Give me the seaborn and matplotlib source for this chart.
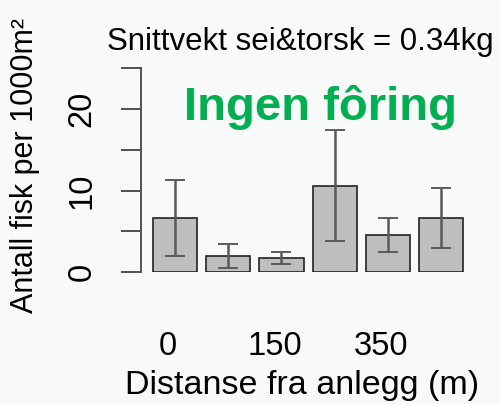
import numpy as np
import pandas as pd
import seaborn as sns
import matplotlib.pyplot as plt

# Data
stasjon = ["1", "2", "3", "4", "5", "6"]
snitt = [6.67, 2.0, 1.77, 10.6, 4.6, 6.67]
feil = [4.68, 1.5, 0.72, 6.8, 2.1, 3.7]
x_etiketter = ["0", "", "150", "", "350", ""]
y_ticks = [0, 5, 10, 15, 20, 25]
y_etiketter = ["0", "", "10", "", "20", ""]

df = pd.DataFrame({"stasjon": stasjon, "snitt": snitt, "feil": feil})

sns.set_style("white")
plt.rcParams["font.family"] = ["Liberation Sans", "DejaVu Sans"]
plt.rcParams["text.color"] = "black"
plt.rcParams["xtick.color"] = "black"
plt.rcParams["ytick.color"] = "black"

fig = plt.figure(figsize=(5, 4.04), dpi=100, facecolor="#f8f9f9")
ax = fig.add_axes([0.282, 0.326, 0.664, 0.505])
ax.set_facecolor("none")

sns.barplot(data=df, x="stasjon", y="snitt", color="#bebebe", width=0.83,
            edgecolor="#222222", linewidth=1.2, saturation=1, errorbar=None, ax=ax)

# Feilstolper
pos = np.arange(len(df))
ax.errorbar(pos, df["snitt"], yerr=df["feil"], fmt="none", ecolor="#5a5a5a",
            elinewidth=1.8, capsize=7.5, capthick=1.4)

ax.set_xlim(-0.64, 5.6)
ax.set_ylim(0, 25)
for side in ["top", "right", "bottom"]:
    ax.spines[side].set_visible(False)
ax.spines["left"].set_color("#555555")
ax.spines["left"].set_linewidth(1.4)

ax.set_yticks(y_ticks)
ax.set_yticklabels(y_etiketter, rotation=90, va="center", fontsize=23.5)
ax.tick_params(axis="y", length=14.5, width=1.1, color="#222222", pad=17, left=True)

ax.set_xticks(pos - 0.13)
ax.set_xticklabels(x_etiketter, fontsize=23.5)
ax.tick_params(axis="x", length=0, pad=42)

ax.set_xlabel("")
ax.set_ylabel("")

# Tekster
fig.text(0.601, 0.895, "Snittvekt sei&torsk = 0.34kg", ha="center", va="center", fontsize=22.5)
fig.text(0.641, 0.735, "Ingen fôring", ha="center", va="center", fontsize=34,
         fontweight="bold", color="#00b050")
fig.text(0.605, 0.045, "Distanse fra anlegg (m)", ha="center", va="center", fontsize=24.5)
fig.text(0.05, 0.59, "Antall fisk per 1000m²", ha="center", va="center",
         rotation=90, fontsize=22)

plt.savefig("out.png", dpi=100, facecolor=fig.get_facecolor())
